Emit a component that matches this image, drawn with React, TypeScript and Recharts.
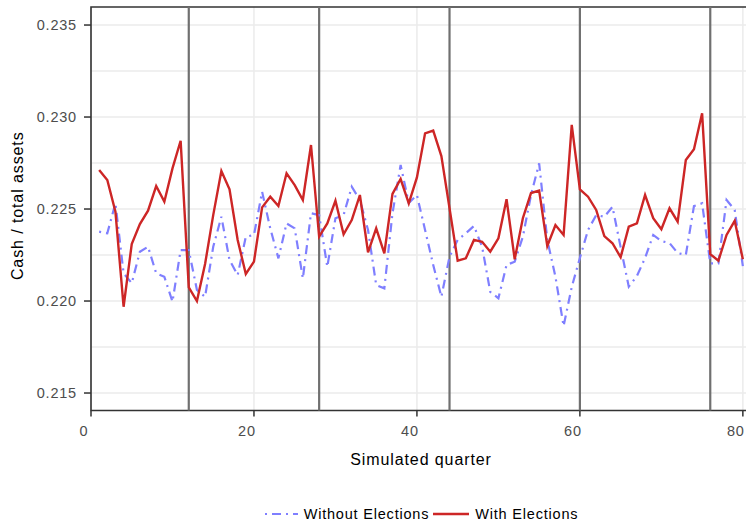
import React from 'react';
import { LineChart, Line, XAxis, YAxis, CartesianGrid, Legend, ReferenceLine, ReferenceArea } from 'recharts';

// cash / total assets per simulated quarter (1..80)
const withoutElections = [
    0.22377, 0.22368, 0.22531, 0.22151, 0.22097, 0.22268, 0.22295, 0.22151, 0.22132, 0.21996,
    0.22277, 0.22277, 0.2206, 0.22023, 0.22295, 0.22458, 0.22223, 0.22141, 0.22349, 0.22359,
    0.22594, 0.22395, 0.22232, 0.22422, 0.22395, 0.22123, 0.22477, 0.22467, 0.22186, 0.2245,
    0.22467, 0.22621, 0.22549, 0.22386, 0.22087, 0.22069, 0.22477, 0.22739, 0.22533, 0.22576,
    0.22386, 0.22196, 0.22023, 0.22241, 0.22332, 0.22368, 0.22408, 0.22295, 0.2205, 0.22015,
    0.22196, 0.22214, 0.22349, 0.22576, 0.22748, 0.22332, 0.22132, 0.21864, 0.22076, 0.22234,
    0.22386, 0.22467, 0.22458, 0.22512, 0.22293, 0.22078, 0.22136, 0.22234, 0.22359, 0.22326,
    0.22315, 0.22261, 0.2225, 0.22516, 0.22531, 0.22205, 0.22205, 0.22549, 0.22495, 0.2219,
];

const withElections = [
    0.22712, 0.22658, 0.22485, 0.21969, 0.2231, 0.22418, 0.22491, 0.22625, 0.2254, 0.22721,
    0.22871, 0.22074, 0.2200, 0.22201, 0.22467, 0.22707, 0.22607, 0.22332, 0.22147, 0.22214,
    0.22509, 0.22567, 0.22516, 0.22694, 0.2263, 0.22549, 0.22848, 0.2235, 0.22422, 0.22545,
    0.22363, 0.2244, 0.22576, 0.22265, 0.22395, 0.22259, 0.22582, 0.22663, 0.22531, 0.22672,
    0.22911, 0.22926, 0.22788, 0.22505, 0.22219, 0.22232, 0.22332, 0.22322, 0.22268, 0.22341,
    0.22553, 0.22227, 0.2245, 0.22587, 0.226, 0.22299, 0.22413, 0.22359, 0.22957, 0.22607,
    0.22567, 0.22495, 0.22353, 0.22314, 0.22238, 0.22404, 0.22422, 0.22576, 0.2245, 0.2239,
    0.22504, 0.22431, 0.22766, 0.22825, 0.2302, 0.22255, 0.22219, 0.22359, 0.22436, 0.22227,
];

const electionQuarters = [12, 28, 44, 60, 76];
const xTicks = [0, 20, 40, 60, 80];
const yTicks = [0.215, 0.22, 0.225, 0.23, 0.235];
const yGrid = [0.215, 0.2175, 0.22, 0.2225, 0.225, 0.2275, 0.23, 0.2325, 0.235];

const X_DOMAIN: [number, number] = [0, 81];
const Y_DOMAIN: [number, number] = [0.21405, 0.23598];

const BLUE = '#7f7fff';
const RED = '#cd2626';
const DASH = '2 5 9 5';
const FONT = '"Liberation Sans", Arial, Helvetica, sans-serif';
const tickStyle = { fill: '#4d4d4d', fontSize: 14.5, fontFamily: FONT, letterSpacing: 0.8 };
const titleStyle = { fill: '#000', fontSize: 16, fontFamily: FONT, letterSpacing: 0.9 };

const data = withElections.map((v, i) => ({
    quarter: i + 1,
    without: withoutElections[i],
    with: v,
}));

const XTitle = ({ viewBox }: any) => (
    <text x={viewBox.x + viewBox.width / 2} y={viewBox.y + 54.5} textAnchor="middle" style={titleStyle}>
        Simulated quarter
    </text>
);

const YTitle = ({ viewBox }: any) => {
    const cx = 23;
    const cy = viewBox.y + viewBox.height / 2 - 3;
    return (
        <text x={cx} y={cy} transform={`rotate(-90 ${cx} ${cy})`} textAnchor="middle" style={titleStyle}>
            Cash / total assets
        </text>
    );
};

const LegendContent = () => (
    <div
        style={{
            display: 'flex',
            justifyContent: 'center',
            alignItems: 'center',
            height: 28,
            paddingTop: 8,
            boxSizing: 'border-box',
            fontFamily: FONT,
            fontSize: 14.5,
            letterSpacing: 0.8,
            color: '#000',
        }}
    >
        <svg width={34} height={6} style={{ marginRight: 6 }}>
            <line x1={1} y1={3} x2={34} y2={3} stroke={BLUE} strokeWidth={2.2} strokeDasharray={DASH} />
        </svg>
        <span style={{ marginRight: 4 }}>Without Elections</span>
        <svg width={36} height={6} style={{ marginRight: 6 }}>
            <line x1={0} y1={3} x2={36} y2={3} stroke={RED} strokeWidth={2.4} />
        </svg>
        <span>With Elections</span>
    </div>
);

export default function App() {
    return (
        <div style={{ position: 'fixed', left: 0, top: 0, width: 746, height: 524, overflow: 'hidden', background: '#fff' }}>
            <LineChart width={760} height={524} data={data} margin={{ top: 7, right: 9, bottom: 0, left: 0 }}>
                <CartesianGrid
                    stroke="#ebebeb"
                    strokeWidth={1.5}
                    horizontalValues={yGrid}
                    verticalValues={xTicks}
                />
                <XAxis
                    dataKey="quarter"
                    type="number"
                    domain={X_DOMAIN}
                    ticks={xTicks}
                    allowDataOverflow
                    height={85.5}
                    axisLine={false}
                    tickSize={6}
                    tickMargin={9}
                    tickLine={{ stroke: '#333', strokeWidth: 1.5 }}
                    tick={{ ...tickStyle, dx: -7 }}
                    label={<XTitle />}
                />
                <YAxis
                    type="number"
                    domain={Y_DOMAIN}
                    ticks={yTicks}
                    allowDataOverflow
                    width={91}
                    axisLine={false}
                    tickSize={7}
                    tickMargin={7}
                    tickLine={{ stroke: '#333', strokeWidth: 1.5 }}
                    tick={tickStyle}
                    tickFormatter={(v: number) => v.toFixed(3)}
                    label={<YTitle />}
                />
                {/* election quarters */}
                {electionQuarters.map((q) => (
                    <ReferenceLine key={q} x={q} stroke="#707070" strokeWidth={2.2} />
                ))}
                <Line
                    type="linear"
                    dataKey="without"
                    name="Without Elections"
                    stroke={BLUE}
                    strokeWidth={2.2}
                    strokeDasharray={DASH}
                    dot={false}
                    isAnimationActive={false}
                />
                <Line
                    type="linear"
                    dataKey="with"
                    name="With Elections"
                    stroke={RED}
                    strokeWidth={2.4}
                    dot={false}
                    isAnimationActive={false}
                />
                {/* panel border */}
                <ReferenceArea
                    x1={X_DOMAIN[0]}
                    x2={X_DOMAIN[1]}
                    y1={Y_DOMAIN[0]}
                    y2={Y_DOMAIN[1]}
                    fill="none"
                    stroke="#333"
                    strokeWidth={1.6}
                />
                <Legend verticalAlign="bottom" content={<LegendContent />} wrapperStyle={{ left: 91, width: 660 }} />
            </LineChart>
        </div>
    );
}
